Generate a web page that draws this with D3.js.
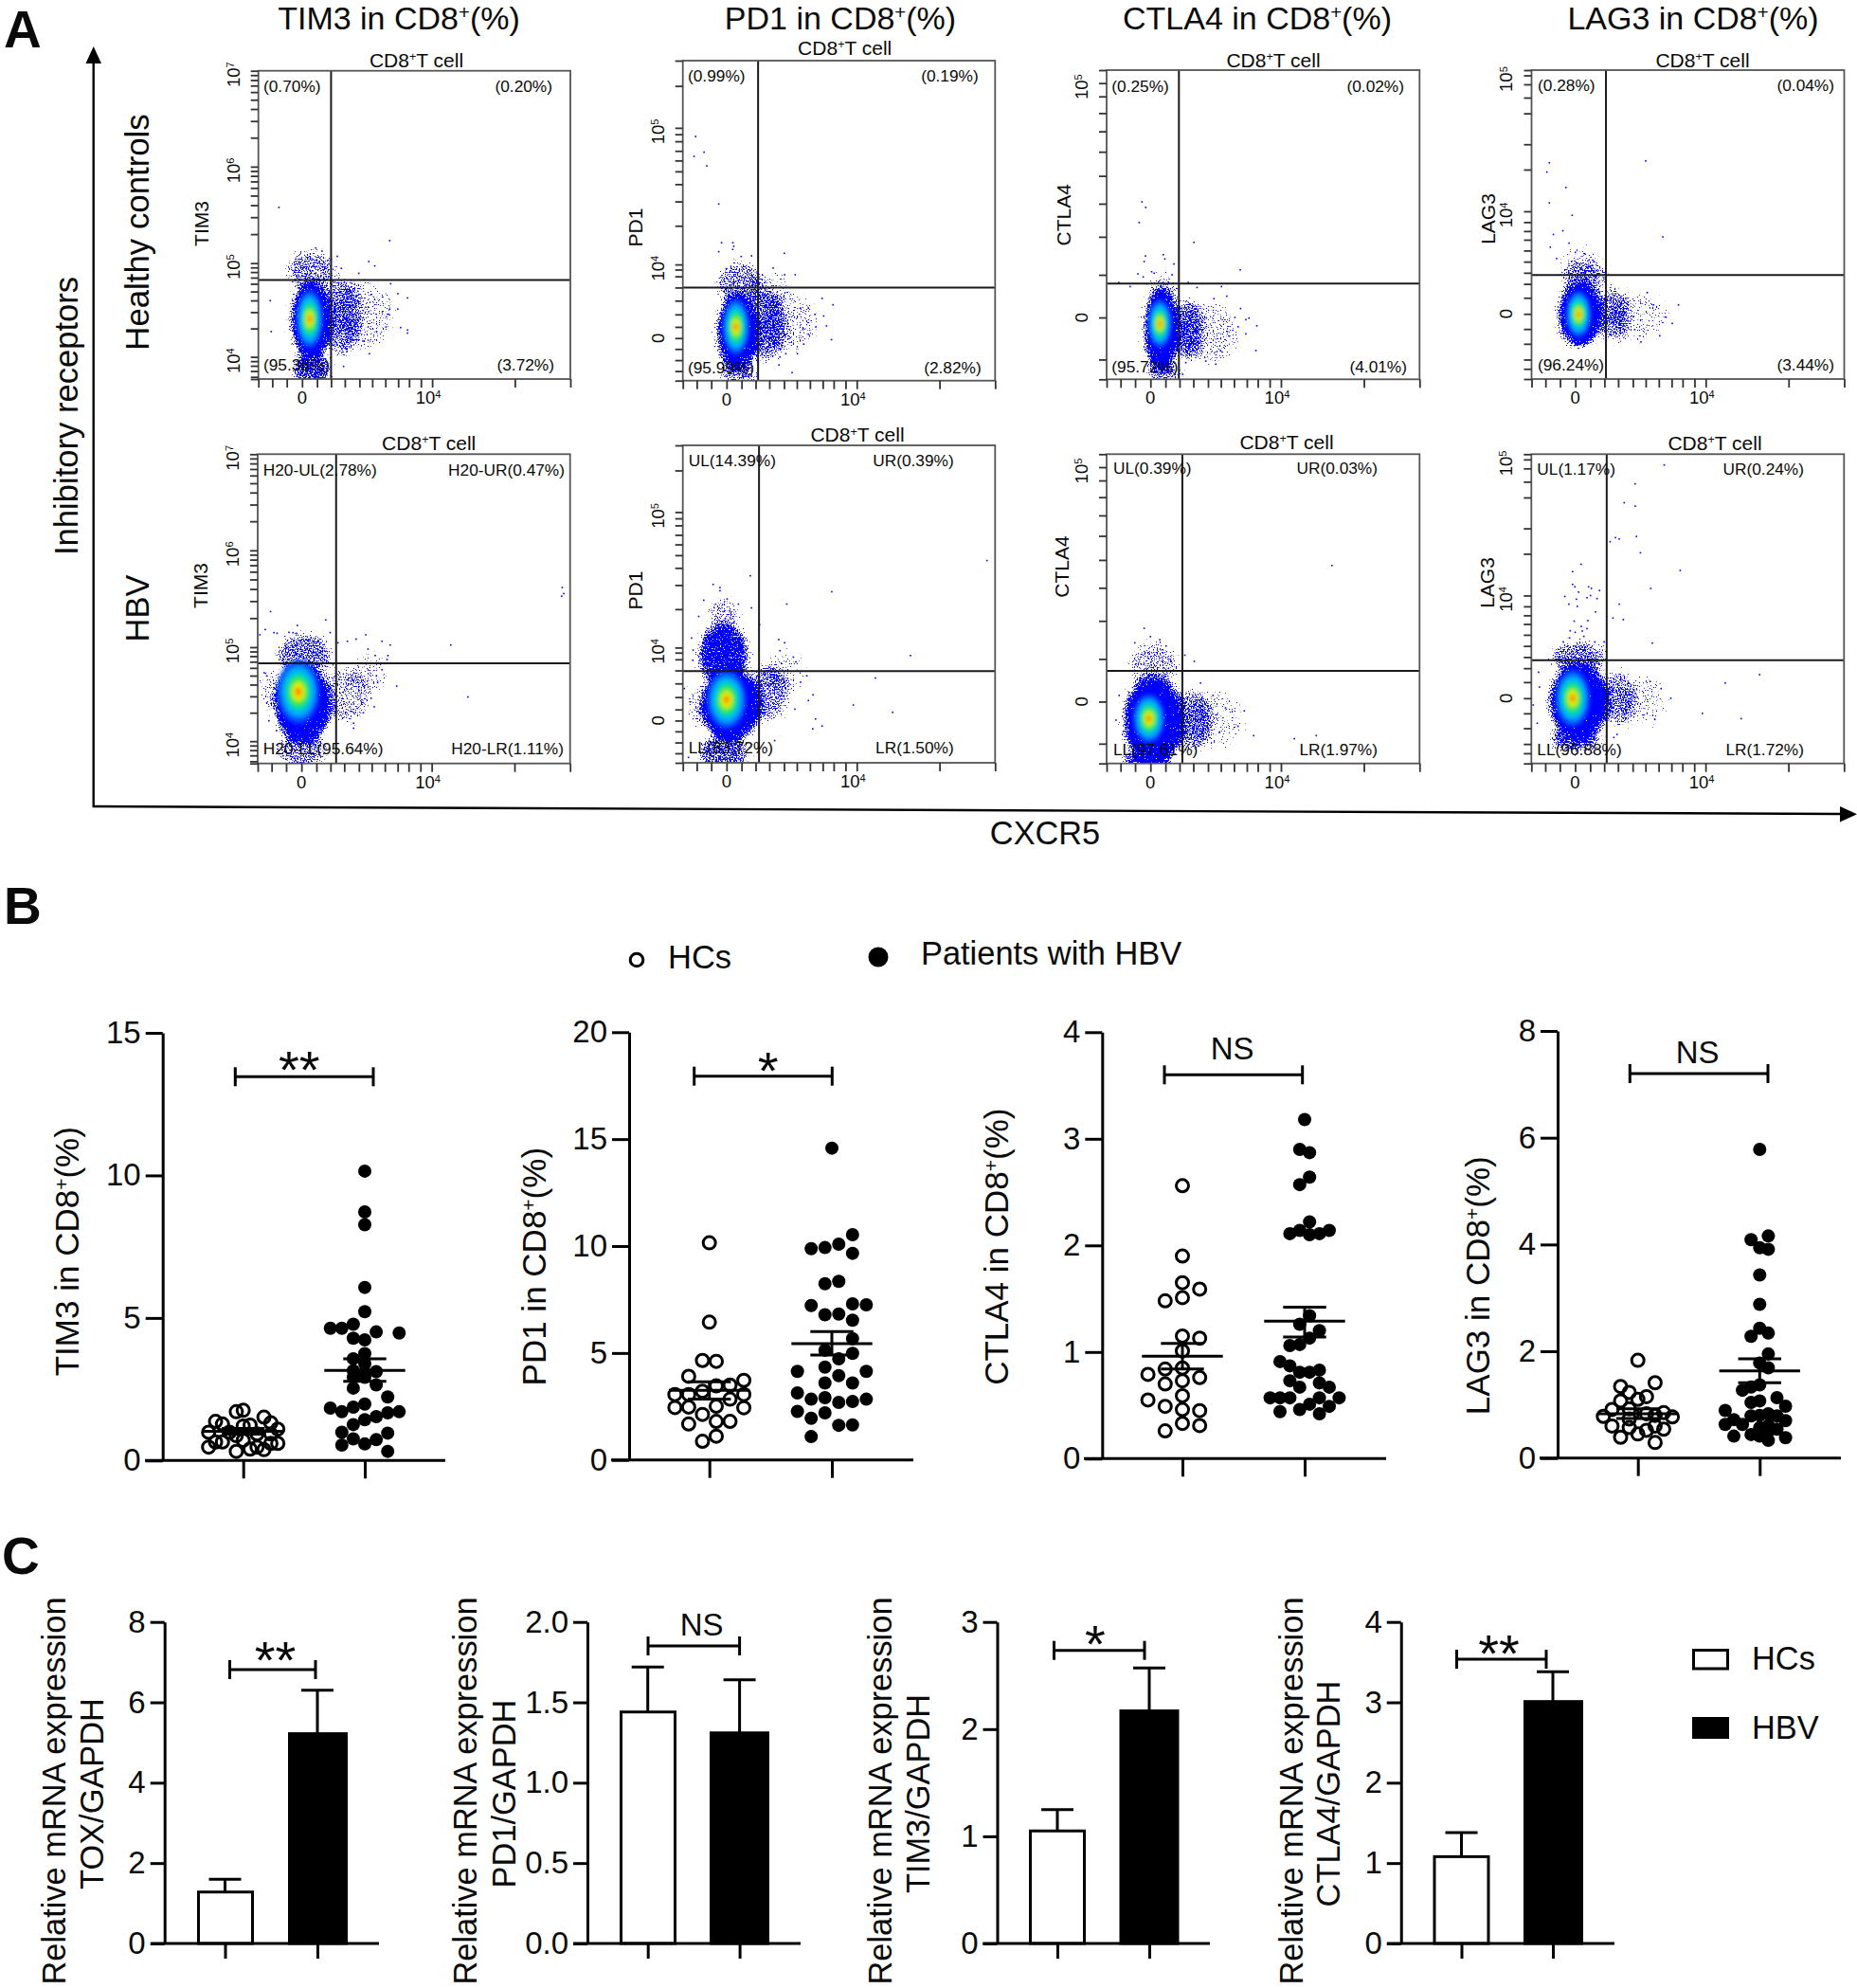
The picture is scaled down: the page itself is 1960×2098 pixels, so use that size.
<!DOCTYPE html>
<html><head><meta charset="utf-8">
<script src="https://cdn.jsdelivr.net/npm/d3@7/dist/d3.min.js"></script>
<style>
html,body{margin:0;padding:0;background:#fff}
svg{display:block}
text{font-family:"Liberation Sans",Arial,sans-serif;fill:#0a0a0a}
</style></head><body><svg id="c" width="1960" height="2098"></svg>
<script>
/* ---------- Panel A: flow cytometry, everything in instrument channels 0-100 ---------- */
const xTickChannels=[0,4.45,9.1,14,18.8,23.3,27.7,32.4,36.5,40.7,44.8,48.3,52.1,55.7,82.2,100];
const xTickLabels=[[14,"0",""],[55.7,"10","4"]];
const tim3Ticks=[0,.7,2.6,4.3,5.8,7.2,16.4,21.7,25.5,28.4,30.9,32.9,34.7,36.2,37.6,47,52.5,56.4,59.5,62,64.1,65.9,67.5,68.9,78.3,83.7,87.6,90.6,93.1,95.2,97,98.6,100];
const tim3Labels=[[7.2,"10","4"],[37.6,"10","5"],[68.9,"10","6"],[100,"10","7"]];
const pd1Ticks=[0,3,6.4,9.9,13.3,16.8,20.7,25,29.1,32.6,34.7,36.3,48.4,56,61.4,65.4,68.8,71.8,74.8,77,79,92.1,100];
const pd1Labels=[[13.3,"0",""],[36.3,"10","4"],[79,"10","5"]];
const ctla4Ticks=[0,6.4,20,33.8,46.1,56.8,65.8,73.6,80.2,86.1,91.5,95.8,100];
const ctla4Labels=[[20,"0",""],[95.8,"10","5"]];
const lag3Ticks=[0,3.3,6.3,11.4,16.2,21.1,26.3,30.8,34.4,38,41.6,45.1,47.9,50.8,54.3,67.8,76,86,91.1,95.4,98.3,100];
const lag3Labels=[[21.1,"0",""],[54.3,"10","4"],[98.3,"10","5"]];

const hcTim3Quadrants=["(0.70%)","(0.20%)","(95.38%)","(3.72%)"];
const hcPd1Quadrants=["(0.99%)","(0.19%)","(95.99%)","(2.82%)"];
const hcCtla4Quadrants=["(0.25%)","(0.02%)","(95.72%)","(4.01%)"];
const hcLag3Quadrants=["(0.28%)","(0.04%)","(96.24%)","(3.44%)"];
const hbvTim3Quadrants=["H20-UL(2.78%)","H20-UR(0.47%)","H20-LL(95.64%)","H20-LR(1.11%)"];
const hbvPd1Quadrants=["UL(14.39%)","UR(0.39%)","LL(83.72%)","LR(1.50%)"];
const hbvCtla4Quadrants=["UL(0.39%)","UR(0.03%)","LL(97.61%)","LR(1.97%)"];
const hbvLag3Quadrants=["UL(1.17%)","UR(0.24%)","LL(96.88%)","LR(1.72%)"];

/* gates: [vertical, horizontal] channel */
const hcTim3Gate=[23.3,32.1], hcPd1Gate=[24.1,29.1], hcCtla4Gate=[23.1,31], hcLag3Gate=[23.8,33.7];
const hbvTim3Gate=[25.1,32.4], hbvPd1Gate=[24.4,28.9], hbvCtla4Gate=[24.2,29.9], hbvLag3Gate=[24.1,33.4];

/* density peak of each population: [x, y, xSpread, ySpread] */
const hcTim3Peak=[16.4,19.5,3.4,7.5], hcPd1Peak=[17,16.8,3.4,7], hcCtla4Peak=[17,18,3,6.2], hcLag3Peak=[15,21,3.2,6];
const hbvTim3Peak=[13,23.2,5.4,8.2], hbvPd1Peak=[14,19.9,5,7.3], hbvCtla4Peak=[13.5,14.5,4,6.3], hbvLag3Peak=[13.2,21.1,4.4,7.3];

/* lower-density parts of each population: [x, y, xSpread, ySpread, density] */
const hcTim3Clouds=[[17,19,6.5,12.5,1],[17,35,8,6.5,.5],[27,20,6,13,.5],[34,21,9,11,.3],[17,3,6,6,.7]];
const hcPd1Clouds=[[17.5,15,6.5,12,1],[18.5,30,7.5,7,.5],[27,17,6,11,.55],[34,18,9,9,.3],[28,29,7,5,.25],[18,2,6,4,.5]];
const hcCtla4Clouds=[[17.5,16,5.5,13.5,1],[26,16,5,10,.55],[33,15,9,10,.3],[18,29,5,5,.38],[18,2,5.5,3,.55]];
const hcLag3Clouds=[[15.5,21,7,10.5,1],[17,33,7.5,5.5,.45],[26,21,5,9,.5],[34,20,9,8,.28],[16,37,6,6,.22]];
const hbvTim3Clouds=[[14.5,19,9,12.5,1],[15,35,9,7,.55],[28,22,8,9,.4],[36,29,6,6,.25],[14,4,8,6,.5],[4,24,3,7,.33]];
const hbvPd1Clouds=[[15.5,18,9.5,11,1],[13,34,8,10,.85],[13,47,5,5,.4],[27,22,7,9,.5],[33,29,6,7,.25],[5,18,3.5,7,.33],[13,3,8,6,.6]];
const hbvCtla4Clouds=[[15,14,9.5,14,1],[15,32,8,7,.42],[27,14,7,10,.5],[35,14,9,9,.25],[13,1,8,3,.8]];
const hbvLag3Clouds=[[15.3,20,9.5,12,1],[15,34,9,5.5,.55],[28,21,5,9,.5],[36,20,7,8,.28],[14,8,8,4,.7]];

/* individually visible events: [x, y] */
const hcTim3Events=[[6.6,55.7],[42.1,44.9],[18.4,42.5],[20.4,41.5],[25.3,39.8],[16.6,38.9],[35.4,38.1],[37.3,36.7],[11.7,37.1],[32.2,34.3],[26.6,35.9],[42.4,30.9],[44.7,27.7],[47.8,26.3],[39.8,26.6],[3.8,25.4],[4.1,15.4],[45.6,16.7],[47.8,15.9],[47.8,14.9],[42.1,22.7],[44.7,22.7],[35.6,8.2],[27.3,4.1],[40.9,16.9],[37.9,15.4],[41.8,21],[33.5,12.3],[31.5,12.8],[28.4,9.7]];
const hcPd1Events=[[4.1,76.3],[6.8,71.4],[3.6,70.1],[7.7,67.1],[11.5,55.2],[12.4,43.1],[16,43.1],[16.3,42],[16,41],[11.5,40.3],[32.5,39.8],[18.7,38.8],[22,39],[13.9,35],[28.9,35.2],[36,33.1],[32.6,33.1],[44.6,25.7],[48.1,23.7],[45.1,20.2],[46,17.1],[47.6,12.8],[38.7,11.4],[38.5,16.3],[42.3,20.7],[42.6,16.8],[40.2,14.5],[35,2.5],[30.8,4.9],[36.7,8.4],[33,8.4],[31.1,7.4],[40.2,22.7],[37.7,22.7]];
const hcCtla4Events=[[11.3,57.4],[12.5,55.6],[10.4,50.7],[27.9,44.3],[12.4,39.9],[18.1,40.3],[18.6,38.9],[12,38.1],[21.5,37.3],[42.7,35.4],[10,34.1],[14.4,34.8],[15.2,34.3],[20.9,33.8],[11.7,33.1],[3.9,31.3],[7.5,30],[26.1,31.3],[36.7,30],[28.9,29.7],[38.4,26.9],[34.3,26.1],[42.8,22.9],[45.5,19.8],[44.5,19.3],[48,17.3],[44.5,14.7],[47.7,9.3],[36.4,9.3],[34.9,4.9],[31.7,5.9],[25.3,5.4],[24.3,1.6],[42,17],[38.6,15.4],[41,20]];
const hcLag3Events=[[36.5,70.6],[5.7,70],[4.9,67],[11,62],[5.7,57],[7,46.8],[13,53],[6,42.7],[17,40.6],[42,46],[47,24],[37,28],[43,20],[33,16],[41,14],[10,48],[12,44],[14,41],[20,38],[8,39],[39,24],[45,18],[35,12]];
const hbvTim3Events=[[97.5,56.9],[98,54.9],[97.3,54.1],[4.1,49.1],[21.8,46.4],[12.7,44.6],[2.4,43.3],[.7,41.6],[5.2,42.3],[6.2,42.1],[10,42.4],[11.3,42.3],[12.5,42],[23.2,42.3],[34.6,41.6],[31.5,40.2],[39.8,39.5],[42.4,38.3],[61.8,38.3],[25.7,39],[28.7,39.5],[35.3,37],[37.6,34.9],[41.7,34.9],[41.4,33.6],[44.5,25],[67.3,21.5],[39.8,30.3],[38,28.3],[38.4,26.2],[37.3,18.3],[36.3,21.1],[30.7,13],[30.7,11.4],[33.8,16.4],[2.9,19.6],[3.6,13.8],[6,10.6],[2.1,29.3],[2.9,28.3]];
const hbvPd1Events=[[97.4,63.7],[47.7,53.9],[21.6,58.9],[9.7,56.2],[11.9,55.2],[11.9,54.2],[33.3,50],[22,48.8],[6.7,51.2],[14.2,51.6],[17.8,50],[5.1,46.1],[24.6,43.5],[30.7,38.8],[32.6,37.8],[72.9,33.8],[2.8,39.3],[3.3,35.5],[3.2,32.3],[61.7,26.7],[35.4,33.3],[36.2,31.8],[31.1,35.3],[54.6,18.2],[67.2,15.9],[41.7,21.4],[40.2,19.6],[42.5,13.8],[44.6,11.6],[41.6,10.7],[35.9,16.9],[39.7,27.4],[37.7,25.4],[.5,23.4],[2.3,19.2],[1.8,1.7],[29.4,7]];
const hbvCtla4Events=[[72,64],[12,43.7],[14,41],[17,40],[9,39],[19,38],[30,26],[34,22],[38,18],[42,12],[47,9],[60,8],[67,9],[31,8],[36,10],[44,17],[4,22],[3,14],[25,35],[28,33]];
const hbvLag3Events=[[42.5,96.5],[33.2,90.4],[29.7,84.3],[33.2,83.2],[33.6,73.4],[26.9,73],[28.1,72.6],[25.2,71.7],[34.9,68.1],[47.6,62.4],[15.9,64.4],[13.2,62],[13.2,57.9],[13.9,57.1],[18.3,57.1],[19.2,56.6],[21.8,55.9],[15.1,55.4],[38.2,56.6],[10.7,54],[17.8,53.6],[21,53.3],[14.4,53.1],[18.9,54.3],[12,51.5],[14.7,50.8],[28.1,51.5],[20.5,49],[18.1,46.2],[13.7,46],[26.1,47],[29.4,46.5],[16,44.3],[16.3,42.8],[12.4,42.9],[17.8,43.6],[14,42.4],[38.7,38.9],[73,28.7],[62,26],[67.1,14.5],[54.7,16.2],[44.6,21.1],[39.5,14.2],[41.5,24.2],[38,26.5],[1.9,13],[.6,18.9],[2.6,24.7],[2.3,29.5],[27.4,9.4],[26.4,8.4],[12.2,40.6],[16.8,41.1],[10.2,39.3],[20.3,39.3],[23.3,39.3]];

/* ---------- Panel B: beeswarm values and their column lanes ---------- */
const groups=["HCs","HBV"];
const tim3HC=[1.71,1.76,1.52,1.37,1.32,1.28,1.24,1.21,1.10,.99,.99,.93,.93,.87,.65,.65,.60,.60,.47,.71,.32,.40,.47,.38];
const tim3HCLanes=[-1,0,3,-4,4,-3,1,0,5,-5,-2,4,2,-1,-3,-4,4,5,-5,0,-1,1,2,3];
const tim3HBV=[10.15,8.72,8.27,6.07,5.22,4.78,4.64,4.64,4.51,4.47,4.29,4.23,3.75,3.57,3.40,3.15,3.09,3.12,2.92,2.92,2.65,2.54,2.23,1.98,1.87,1.84,1.71,1.71,1.67,1.54,1.43,1.26,.99,.96,.76,.73,.54,.58,.32];
const tim3HBVLanes=[0,0,0,0,0,-1,-2,-3,1,3,-1,0,0,-1,0,-1,0,1,-1,0,1,-1,2,0,-1,-3,-2,3,2,1,0,-1,-2,2,-1,1,-2,0,2];
const pd1HC=[10.15,6.44,4.65,4.61,3.91,3.72,3.50,3.46,3.21,3.06,3.06,3.06,2.84,2.51,2.47,2.45,2.44,2.13,1.80,1.80,1.68,1.11,.87];
const pd1HCLanes=[0,0,-1,1,-3,5,3,1,-1,-5,-3,5,3,1,-3,-5,5,-1,1,3,-3,1,-1];
const pd1HBV=[14.58,10.53,10.09,9.88,9.93,9.66,8.35,8.24,7.30,7.25,7.22,6.82,6.79,6.53,5.67,5.13,4.98,4.73,4.34,4.14,4.14,3.94,3.60,3.60,3.13,2.91,2.84,2.84,2.73,2.69,2.27,2.20,1.95,1.62,1.64,1.09];
const pd1HBVLanes=[0,3,1,-3,-1,3,1,-1,3,5,-3,1,-1,3,3,-1,3,1,-1,-5,5,1,-1,3,-5,-1,-3,5,3,1,-5,-1,-3,1,3,-3];
const ctla4HC=[2.56,1.90,1.65,1.59,1.51,1.48,1.15,1.13,1.01,.84,.85,.79,.76,.73,.70,.59,.55,.49,.46,.45,.33,.31,.26];
const ctla4HCLanes=[0,0,0,1,0,-1,0,1,0,-1,0,-2,1,0,-1,0,-2,-1,0,1,0,1,-1];
const ctla4HBV=[3.18,2.90,2.87,2.64,2.57,2.22,2.14,2.11,2.14,2.11,2.10,1.34,1.26,1.20,1.13,1.07,1.06,.91,.87,.83,.81,.81,.73,.71,.67,.67,.57,.57,.57,.57,.57,.51,.49,.46,.44,.42];
const ctla4HBVLanes=[0,-1,1,1,-1,1,-1,-3,5,3,1,1,-1,3,1,-1,-3,-5,-3,3,-1,1,-3,3,-1,5,-7,-5,-3,3,7,1,5,-1,-5,3];
const lag3HC=[1.83,1.41,1.34,1.23,1.15,1.10,1.07,.91,.92,.85,.78,.77,.83,.80,.73,.60,.60,.54,.57,.52,.45,.39,.29];
const lag3HCLanes=[0,2,-2,-1,1,0,-2,-3,-1,3,-4,4,1,2,-1,-3,2,3,-1,1,0,-2,2];
const lag3HBV=[5.78,4.16,4.09,3.94,3.91,3.43,2.88,2.43,2.34,2.28,1.95,1.78,1.69,1.37,1.33,1.27,1.07,1.04,1.13,.97,.89,.83,.80,.79,.79,.70,.72,.63,.63,.61,.57,.54,.44,.50,.41,.38,.33,.41];
const lag3HBVLanes=[0,1,-1,0,1,0,0,0,1,-1,1,0,1,0,-1,-2,0,-1,2,3,-4,1,0,-1,2,3,-3,-2,-4,1,0,2,-1,1,-3,3,1,0];
/* [mean, upper SEM, lower SEM] */
const tim3HCStats=[1.02,1.12,.92], tim3HBVStats=[3.16,3.57,2.78];
const pd1HCStats=[3.25,3.65,2.84], pd1HBVStats=[5.44,6.0,4.9];
const ctla4HCStats=[.96,1.08,.84], ctla4HBVStats=[1.29,1.42,1.14];
const lag3HCStats=[.83,.92,.74], lag3HBVStats=[1.63,1.86,1.41];

/* ---------- Panel C: bars ---------- */
const toxMeans=[1.28,5.22], toxTops=[1.60,6.30];
const pd1mMeans=[1.44,1.31], pd1mTops=[1.72,1.64];
const tim3mMeans=[1.05,2.17], tim3mTops=[1.25,2.57];
const ctla4mMeans=[1.08,3.01], ctla4mTops=[1.38,3.38];

const svg=d3.select("#c"), FF='"Liberation Sans",Arial,sans-serif';
const INK="#000";
const defs=svg.append("defs");

/* speckle filter: turns a soft density field into separate blue events */
const sp=defs.append("filter").attr("id","speck").attr("x","-40%").attr("y","-40%").attr("width","180%").attr("height","180%")
  .attr("color-interpolation-filters","sRGB");
sp.append("feGaussianBlur").attr("in","SourceGraphic").attr("stdDeviation",4.2).attr("result","b");
sp.append("feTurbulence").attr("type","fractalNoise").attr("baseFrequency",.7).attr("numOctaves",2).attr("seed",7).attr("result","t");
sp.append("feColorMatrix").attr("in","t").attr("type","matrix").attr("values","0 0 0 0 0 0 0 0 0 0 0 0 0 0 0 1.7 0 0 0 -.35").attr("result","n");
sp.append("feComposite").attr("in","b").attr("in2","n").attr("operator","arithmetic").attr("k1",0).attr("k2",1).attr("k3",1).attr("k4",-1).attr("result","m");
const ct=sp.append("feComponentTransfer").attr("in","m").attr("result","a");
ct.append("feFuncA").attr("type","linear").attr("slope",9).attr("intercept",0);
sp.append("feFlood").attr("flood-color","#0000ff").attr("result","f");
sp.append("feComposite").attr("in","f").attr("in2","a").attr("operator","in");
defs.append("filter").attr("id","soft").attr("x","-60%").attr("y","-60%").attr("width","220%").attr("height","220%")
  .append("feGaussianBlur").attr("stdDeviation",1.9);

function supText(sel,parts){ // parts: [[text,isSup],...]
  const fs=+sel.attr("font-size");let up=false;
  parts.forEach(([t,s])=>{
    const ts=sel.append("tspan").text(t);
    if(s){ts.attr("font-size",fs*.6).attr("dy",-fs*.32);up=true;}
    else if(up){ts.attr("dy",fs*.32);up=false;}
  });
}
const CD8=pre=>[[pre+" in CD8",0],["+",1],["(%)",0]];
function label(x,y,str,fs,opt={}){
  const t=svg.append("text").attr("x",x).attr("y",y).attr("font-size",fs)
    .attr("text-anchor",opt.anchor||"start").attr("font-weight",opt.bold?"bold":"normal");
  if(opt.rot)t.attr("transform",`rotate(${opt.rot} ${x} ${y})`);
  if(Array.isArray(str))supText(t,str);else t.text(str);
  return t;
}

/* ---------- A ---------- */
const row1={TIM3:[272.7,602,74.7,400],PD1:[720.7,1050.3,64,401.7],CTLA4:[1168,1498.3,74,400.3],LAG3:[1616.5,1946.5,74,400]};
const row2={TIM3:[272,601.7,479.3,805.7],PD1:[720.7,1050.3,470,805],CTLA4:[1168,1498.3,479.3,805.7],LAG3:[1616.3,1946.3,479.3,805.7]};
const flow=[
 {name:"TIM3",box:row1.TIM3,ticks:tim3Ticks,labs:tim3Labels,q:hcTim3Quadrants,gate:hcTim3Gate,peak:hcTim3Peak,clouds:hcTim3Clouds,events:hcTim3Events,title:[439.5,64],mark:[212.5,236],qx:[278,585],qy:[91,385],qr:[583,585]},
 {name:"PD1",box:row1.PD1,ticks:pd1Ticks,labs:pd1Labels,q:hcPd1Quadrants,gate:hcPd1Gate,peak:hcPd1Peak,clouds:hcPd1Clouds,events:hcPd1Events,title:[891.7,50.7],mark:[670.7,240],qx:[726,1035],qy:[80,387.7],qr:[1032.7,1035.7]},
 {name:"CTLA4",box:row1.CTLA4,ticks:ctla4Ticks,labs:ctla4Labels,q:hcCtla4Quadrants,gate:hcCtla4Gate,peak:hcCtla4Peak,clouds:hcCtla4Clouds,events:hcCtla4Events,title:[1344,64],mark:[1123,226.7],qx:[1173.3,1485],qy:[91,386.7],qr:[1482,1485]},
 {name:"LAG3",box:row1.LAG3,ticks:lag3Ticks,labs:lag3Labels,q:hcLag3Quadrants,gate:hcLag3Gate,peak:hcLag3Peak,clouds:hcLag3Clouds,events:hcLag3Events,title:[1797,64],mark:[1571,231],qx:[1623,1936],qy:[90,385],qr:[1936,1936]},
 {name:"TIM3",box:row2.TIM3,ticks:tim3Ticks,labs:tim3Labels,q:hbvTim3Quadrants,gate:hbvTim3Gate,peak:hbvTim3Peak,clouds:hbvTim3Clouds,events:hbvTim3Events,title:[452.7,468],mark:[211.7,618],qx:[277.7,595],qy:[496,790],qr:[596,595]},
 {name:"PD1",box:row2.PD1,ticks:pd1Ticks,labs:pd1Labels,q:hbvPd1Quadrants,gate:hbvPd1Gate,peak:hbvPd1Peak,clouds:hbvPd1Clouds,events:hbvPd1Events,title:[905,459.3],mark:[670.7,623],qx:[726.7,1006],qy:[486,789],qr:[1006.7,1006.7]},
 {name:"CTLA4",box:row2.CTLA4,ticks:ctla4Ticks,labs:ctla4Labels,q:hbvCtla4Quadrants,gate:hbvCtla4Gate,peak:hbvCtla4Peak,clouds:hbvCtla4Clouds,events:hbvCtla4Events,title:[1358,467],mark:[1121,598],qx:[1175,1454],qy:[494,791],qr:[1454,1454]},
 {name:"LAG3",box:row2.LAG3,ticks:lag3Ticks,labs:lag3Labels,q:hbvLag3Quadrants,gate:hbvLag3Gate,peak:hbvLag3Peak,clouds:hbvLag3Clouds,events:hbvLag3Events,title:[1810,468],mark:[1570,615],qx:[1622.3,1904],qy:[495,791],qr:[1904,1904]}
];
const densityLevels=[[1.25,"#0050ff"],[1,"#00a8ff"],[.76,"#00dca8"],[.56,"#38e838"],[.38,"#e4ee00"],[.17,"#ff8000"],[.07,"#ff0000"]];
flow.forEach((p,idx)=>{
  const [l,r,t,b]=p.box;
  const x=d3.scaleLinear([0,100],[l,r]), y=d3.scaleLinear([0,100],[b,t]);
  const g=svg.append("g");
  const ell=(sel,d)=>sel.attr("cx",x(d[0])).attr("cy",y(d[1])).attr("rx",x(d[2])-x(0)).attr("ry",y(0)-y(d[3]));
  const clip="cp"+idx;
  defs.append("clipPath").attr("id",clip).append("rect").attr("x",l).attr("y",t).attr("width",r-l).attr("height",b-t);
  const cg=g.append("g").attr("clip-path",`url(#${clip})`);
  const cl=cg.append("g").attr("filter","url(#speck)");
  p.clouds.forEach(d=>cl.append("ellipse").call(ell,d).attr("fill","#000").attr("fill-opacity",d[4]));
  cg.append("g").selectAll("rect").data(p.events).join("rect")
    .attr("x",d=>x(d[0])-.8).attr("y",d=>y(d[1])-.8).attr("width",1.6).attr("height",1.6).attr("fill","#0000ff");
  const lv=cg.append("g").attr("filter","url(#soft)");
  densityLevels.forEach(([s,c])=>lv.append("ellipse")
    .attr("cx",x(p.peak[0])).attr("cy",y(p.peak[1])).attr("rx",(x(p.peak[2])-x(0))*s).attr("ry",(y(0)-y(p.peak[3]))*s).attr("fill",c));
  // gates
  g.append("line").attr("x1",x(p.gate[0])).attr("x2",x(p.gate[0])).attr("y1",y(0)).attr("y2",y(100)).attr("stroke","#1a1a1a").attr("stroke-width",2);
  g.append("line").attr("x1",x(0)).attr("x2",x(100)).attr("y1",y(p.gate[1])).attr("y2",y(p.gate[1])).attr("stroke","#1a1a1a").attr("stroke-width",2);
  // frame & axes
  g.append("rect").attr("x",l).attr("y",t).attr("width",r-l).attr("height",b-t).attr("fill","none").attr("stroke","#555").attr("stroke-width",1.8);
  const ax=g.append("g").attr("transform",`translate(0,${b})`).call(d3.axisBottom(x).tickValues(xTickChannels).tickSize(9).tickFormat(""));
  const ay=g.append("g").attr("transform",`translate(${l},0)`).call(d3.axisLeft(y).tickValues(p.ticks).tickSize(8).tickFormat(""));
  [ax,ay].forEach(a=>{a.select(".domain").remove();a.selectAll("line").attr("stroke","#333").attr("stroke-width",1.8);});
  // tick labels
  xTickLabels.forEach(([c,a,s])=>label(x(c)-(s?4:0),b+26,[[a,0],[s,1]],18.5,{anchor:"middle"}));
  p.labs.forEach(([c,a,s])=>label(l-20,y(c)+(s?4:0),[[a,0],[s,1]],18.5,{anchor:"middle",rot:-90}));
  label(p.title[0],p.title[1]+7,[["CD8",0],["+",1],["T cell",0]],21,{anchor:"middle"});
  label(p.mark[0]+7,p.mark[1],p.name,21,{anchor:"middle",rot:-90});
  const QFS=17.3;
  label(p.qx[0],p.qy[0]+6,p.q[0],QFS);
  label(p.qr[0],p.qy[0]+6,p.q[1],QFS,{anchor:"end"});
  label(p.qx[0],p.qy[1]+6,p.q[2],QFS);
  label(p.qr[1],p.qy[1]+6,p.q[3],QFS,{anchor:"end"});
});
[[421,"TIM3"],[887,"PD1"],[1327,"CTLA4"],[1787,"LAG3"]].forEach(([x,n])=>label(x,31,CD8(n),34,{anchor:"middle"}));
label(157,245,"Healthy controls",34.8,{anchor:"middle",rot:-90});
label(157,642,"HBV",34.5,{anchor:"middle",rot:-90});
label(82,439,"Inhibitory receptors",34.6,{anchor:"middle",rot:-90});
label(1103,891,"CXCR5",34.3,{anchor:"middle"});
svg.append("line").attr("x1",98.7).attr("y1",852).attr("x2",98.7).attr("y2",60).attr("stroke",INK).attr("stroke-width",2.4);
svg.append("path").attr("d","M98.7 49 L107 67 L90.5 67Z").attr("fill",INK);
svg.append("line").attr("x1",98).attr("y1",851).attr("x2",1945).attr("y2",859).attr("stroke",INK).attr("stroke-width",2.4);
svg.append("path").attr("d","M1960 859.2 L1942 867.5 L1942 851Z").attr("fill",INK);
label(4,50,"A",55,{bold:true});
label(4,975,"B",55,{bold:true});
label(2,1661,"C",55,{bold:true});

/* ---------- B ---------- */
const dots=[
 {name:"TIM3",dom:15,ticks:[0,5,10,15],ax:171.7,y0:1541.3,yT:1090,xs:[256.7,385],xl:[153,470],hc:tim3HC,hcL:tim3HCLanes,hcS:7.3,hb:tim3HBV,hbL:tim3HBVLanes,hbS:12.1,hcM:tim3HCStats,hbM:tim3HBVStats,br:[248.3,394,1136.3],sig:"**",sp:[315.7,1116.7],tx:[83,1320.7]},
 {name:"PD1",dom:20,ticks:[0,5,10,15,20],ax:664,y0:1540.7,yT:1089.3,xs:[748.7,878],xl:[645,964],hc:pd1HC,hcL:pd1HCLanes,hcS:7.27,hb:pd1HBV,hbL:pd1HBVLanes,hbS:7.27,hcM:pd1HCStats,hbM:pd1HBVStats,br:[732.7,878.3,1135.7],sig:"*",sp:[810.7,1118],tx:[576,1336.7]},
 {name:"CTLA4",dom:4,ticks:[0,1,2,3,4],ax:1163.3,y0:1539.3,yT:1089.3,xs:[1248,1377],xl:[1144,1463],hc:ctla4HC,hcL:ctla4HCLanes,hcS:18.2,hb:ctla4HBV,hbL:ctla4HBVLanes,hbS:5.2,hcM:ctla4HCStats,hbM:ctla4HBVStats,br:[1229,1374.7,1134.3],sig:"NS",sp:[1300.7,1106.7],tx:[1064,1315.7]},
 {name:"LAG3",dom:8,ticks:[0,2,4,6,8],ax:1644,y0:1538.7,yT:1088,xs:[1728.7,1857.3],xl:[1625,1943],hc:lag3HC,hcL:lag3HCLanes,hcS:9.1,hb:lag3HBV,hbL:lag3HBVLanes,hbS:9.1,hcM:lag3HCStats,hbM:lag3HBVStats,br:[1720.3,1866,1133],sig:"NS",sp:[1791.7,1110.7],tx:[1571.7,1356.7]}
];
function sigLabel(x,y,s){
  if(s==="NS")label(x,y+11.5,s,33,{anchor:"middle"});
  else label(x,y+31,s,56,{anchor:"middle"});
}
function bracket(x1,x2,y){
  const b=svg.append("g").attr("stroke",INK).attr("stroke-width",3).attr("fill","none");
  b.append("line").attr("x1",x1).attr("x2",x2).attr("y1",y).attr("y2",y);
  [x1,x2].forEach(x=>b.append("line").attr("x1",x).attr("x2",x).attr("y1",y-10).attr("y2",y+10));
}
function frame(yS,xS,xl,axX,ticks,fmt,tickLen,gap,fs){
  const a=svg.append("g").attr("transform",`translate(${axX},0)`).call(d3.axisLeft(yS).tickValues(ticks).tickSize(tickLen).tickSizeOuter(0).tickFormat(fmt).tickPadding(gap));
  a.selectAll("text").attr("font-size",fs).attr("font-family",FF).attr("fill",INK);
  a.selectAll("line,path").attr("stroke",INK).attr("stroke-width",3);
  const y0=yS.range()[0];
  const b=svg.append("g").attr("transform",`translate(0,${y0})`).call(d3.axisBottom(xS).tickSize(tickLen+1).tickFormat(""));
  b.select(".domain").remove();
  b.selectAll("line").attr("stroke",INK).attr("stroke-width",3);
  svg.append("line").attr("x1",xl[0]).attr("x2",xl[1]).attr("y1",y0).attr("y2",y0).attr("stroke",INK).attr("stroke-width",3);
}
dots.forEach(p=>{
  const y=d3.scaleLinear([0,p.dom],[p.y0,p.yT]);
  const x=d3.scalePoint(groups,p.xs);
  frame(y,x,p.xl,p.ax,p.ticks,d3.format("d"),18,5,33);
  const hc=svg.append("g"), hb=svg.append("g");
  hc.selectAll("circle").data(p.hc).join("circle").attr("cx",(d,i)=>x("HCs")+p.hcL[i]*p.hcS).attr("cy",d=>y(d)).attr("r",6.5).attr("fill","#fff").attr("fill-opacity",0).attr("stroke",INK).attr("stroke-width",3);
  hb.selectAll("circle").data(p.hb).join("circle").attr("cx",(d,i)=>x("HBV")+p.hbL[i]*p.hbS).attr("cy",d=>y(d)).attr("r",7).attr("fill",INK);
  [["HCs",p.hcM],["HBV",p.hbM]].forEach(([k,m])=>{
    const cx=x(k), s=svg.append("g").attr("stroke",INK).attr("stroke-width",3);
    s.append("line").attr("x1",cx-42.7).attr("x2",cx+42.7).attr("y1",y(m[0])).attr("y2",y(m[0]));
    s.append("line").attr("x1",cx).attr("x2",cx).attr("y1",y(m[1])).attr("y2",y(m[2]));
    [1,2].forEach(j=>s.append("line").attr("x1",cx-22.7).attr("x2",cx+22.7).attr("y1",y(m[j])).attr("y2",y(m[j])));
  });
  bracket(p.br[0],p.br[1],p.br[2]);
  sigLabel(p.sp[0],p.sp[1],p.sig);
  label(p.tx[0],p.tx[1],CD8(p.name),35,{anchor:"middle",rot:-90});
});
svg.append("circle").attr("cx",672).attr("cy",1013).attr("r",6.8).attr("fill","none").attr("stroke",INK).attr("stroke-width",3);
svg.append("circle").attr("cx",927).attr("cy",1010).attr("r",10.5).attr("fill",INK);
label(705,1022,"HCs",34.5);
label(972,1018,"Patients with HBV",34.4);

/* ---------- C ---------- */
const bars=[
 {name:"TOX",dom:8,ticks:[0,2,4,6,8],fmt:d3.format("d"),ax:173.7,xs:[237.5,335],xl:[159,400],vals:toxMeans,tops:toxTops,br:[242.5,333,1762],sig:"**",sp:[290.6,1740],t:[69,109],cen:[238,335.5]},
 {name:"PD1",dom:2,ticks:[0,.5,1,1.5,2],fmt:d3.format(".1f"),ax:620,xs:[683.7,780.6],xl:[605,845],vals:pd1mMeans,tops:pd1mTops,br:[684,780.6,1737],sig:"NS",sp:[740.6,1714],t:[503,544],cen:[684,780.5]},
 {name:"TIM3",dom:3,ticks:[0,1,2,3],fmt:d3.format("d"),ax:1052.5,xs:[1116,1213],xl:[1037.5,1277],vals:tim3mMeans,tops:tim3mTops,br:[1112.5,1208,1741.7],sig:"*",sp:[1156,1723],t:[940.6,981],cen:[1116,1213]},
 {name:"CTLA4",dom:4,ticks:[0,1,2,3,4],fmt:d3.format("d"),ax:1478.75,xs:[1542.5,1639],xl:[1464,1704],vals:ctla4mMeans,tops:ctla4mTops,br:[1537.5,1632,1751],sig:"**",sp:[1582,1733],t:[1375,1414.4],cen:[1542.5,1639.5]}
];
bars.forEach(p=>{
  const y=d3.scaleLinear([0,p.dom],[2051,1711.7]);
  const x=d3.scalePoint(groups,p.xs);
  groups.forEach((k,i)=>{
    const cx=p.cen[i], w=i?60:57;
    svg.append("rect").attr("x",cx-w/2).attr("width",w).attr("y",y(p.vals[i])).attr("height",y(0)-y(p.vals[i]))
      .attr("fill",i?INK:"#fff").attr("stroke",INK).attr("stroke-width",3);
    const e=svg.append("g").attr("stroke",INK).attr("stroke-width",3);
    e.append("line").attr("x1",x(k)).attr("x2",x(k)).attr("y1",y(p.vals[i])).attr("y2",y(p.tops[i]));
    e.append("line").attr("x1",x(k)-17).attr("x2",x(k)+17).attr("y1",y(p.tops[i])).attr("y2",y(p.tops[i]));
  });
  frame(y,x,p.xl,p.ax,p.ticks,p.fmt,15,5,33);
  bracket(p.br[0],p.br[1],p.br[2]);
  sigLabel(p.sp[0],p.sp[1],p.sig);
  label(p.t[0],1890,"Relative mRNA expression",34.4,{anchor:"middle",rot:-90});
  label(p.t[1],1893,p.name+"/GAPDH",34.4,{anchor:"middle",rot:-90});
});
svg.append("rect").attr("x",1787.5).attr("y",1741.5).attr("width",36).attr("height",19.5).attr("fill","#fff").attr("stroke",INK).attr("stroke-width",3);
svg.append("rect").attr("x",1787.5).attr("y",1813.5).attr("width",36).attr("height",20).attr("fill",INK).attr("stroke",INK).attr("stroke-width",3);
label(1849,1762,"HCs",34.4);
label(1849,1835,"HBV",34.4);
</script></body></html>
